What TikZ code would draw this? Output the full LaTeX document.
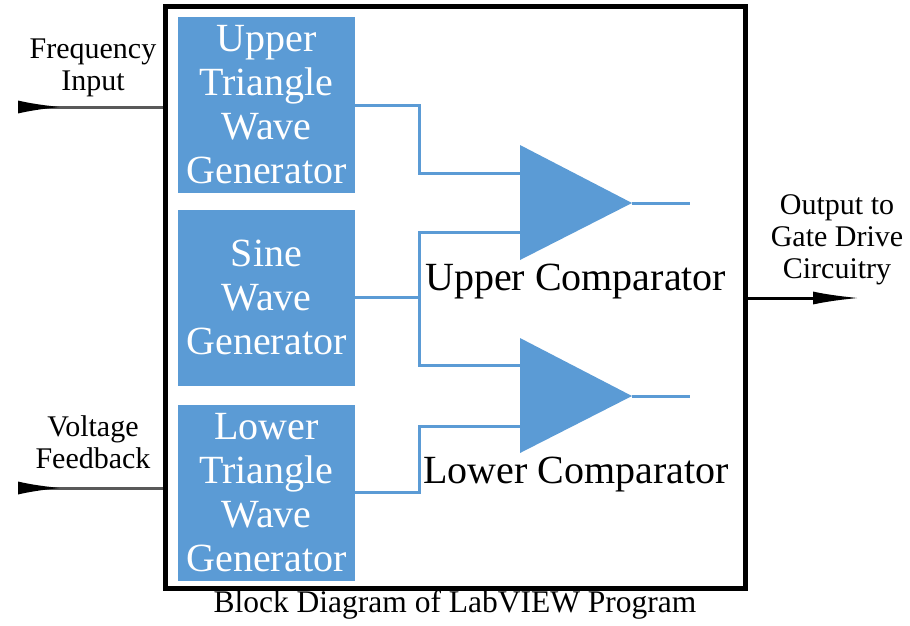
\documentclass[tikz,border=0pt]{standalone}
\usepackage{fontspec}
\setmainfont{LiberationSerif}[Extension=.ttf, UprightFont=*-Regular, BoldFont=*-Bold]
\usetikzlibrary{arrows.meta,positioning}
\definecolor{wireblue}{RGB}{91,155,213}

\tikzset{
  gen/.style={fill=wireblue, text=white, minimum width=177pt, minimum height=176pt,
    text width=175pt, align=center, inner sep=0pt, font=\fontsize{40}{44}\selectfont},
  wire/.style={draw=wireblue, line width=3pt},
  sig/.style={line width=3pt, draw=black!65},
  lbl/.style={align=center, inner sep=0pt, font=\fontsize{30}{32}\selectfont},
  cmp/.style={anchor=base west, inner sep=0pt, font=\fontsize{40}{48}\selectfont},
}

\begin{document}
\begin{tikzpicture}[x=1pt,y=-1pt]
\useasboundingbox (0,0) rectangle (910,625);
\node[draw, line width=5pt, minimum width=580pt, minimum height=582pt, inner sep=0pt] (prog) at (455,297) {};
\node[gen] (upper) at (266.5,105) {Upper\\Triangle\\Wave\\Generator};
\node[gen] (sine) at (266.5,297.5) {Sine\\Wave\\Generator};
\node[gen] (lower) at (266.5,492.5) {Lower\\Triangle\\Wave\\Generator};

\fill[wireblue] (520,145) -- (632,203) coordinate (uc-out) -- (520,260) -- cycle;
\fill[wireblue] (520,338) -- (632,396) coordinate (lc-out) -- (520,453) -- cycle;
\coordinate (uc-in1) at (521,173);
\coordinate (uc-in2) at (521,232);
\coordinate (lc-in1) at (521,365);
\coordinate (lc-in2) at (521,426);
\coordinate (uc-end) at (690,203);
\coordinate (lc-end) at (690,396);

\draw[wire] (upper.east) -- ++(64,0) |- (uc-in1);
\draw[wire] (sine.east) -- ++(64,0) coordinate (split);
\draw[wire] (uc-in2) -| (split) |- (lc-in1);
\draw[wire] (lower.east) -- ++(64,0) |- (lc-in2);
\draw[wire] (uc-out) -- (uc-end);
\draw[wire] (lc-out) -- (lc-end);

\node[cmp] (uc-lbl) at (425,290) {Upper Comparator};
\node[cmp] (lc-lbl) at (423,483) {Lower Comparator};

\coordinate (fin) at (18,107);
\coordinate (vin) at (18,488);
\coordinate (dout) at (860,298);
\draw[sig, {Latex[reversed, length=44pt, width=13pt, color=black]}-] (fin) -- (fin -| prog.west);
\draw[sig, {Latex[reversed, length=44pt, width=13pt, color=black]}-] (vin) -- (vin -| prog.west);
\draw[sig, draw=black, -{Latex[length=47pt, width=13pt]}] (dout -| prog.east) -- (dout);

\node[lbl, anchor=base] (fin-lbl) at (93,90) {Frequency\\Input};
\node[lbl, anchor=base] (vin-lbl) at (93,468) {Voltage\\Feedback};
\node[lbl, anchor=base] (dout-lbl) at (837,278) {Output to\\Gate Drive\\Circuitry};
\node[anchor=base, inner sep=0pt, font=\fontsize{31.5}{36}\selectfont] (title) at (455,612) {Block Diagram of LabVIEW Program};
\end{tikzpicture}
\end{document}
